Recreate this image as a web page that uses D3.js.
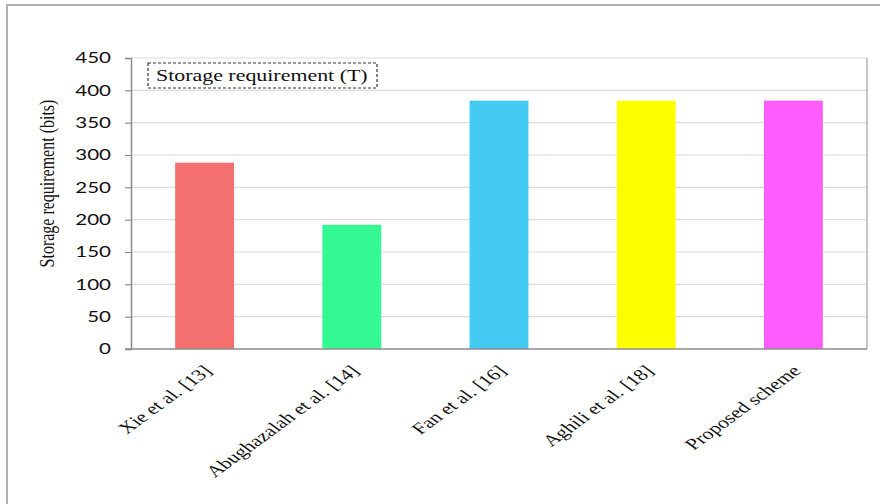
<!DOCTYPE html>
<html>
<head>
<meta charset="utf-8">
<script src="https://cdn.jsdelivr.net/npm/d3@7.9.0/dist/d3.min.js"></script>
<style>
  html, body { margin: 0; padding: 0; background: #fff; }
  svg { display: block; }
  .serif { font-family: "Liberation Serif", "DejaVu Serif", serif; fill: #111; }
  .tick text { font-family: Lato, "Liberation Sans", sans-serif; }
</style>
</head>
<body>
<svg id="chart" width="880" height="504"></svg>
<script>
const categories = ['Xie et al. [13]', 'Abughazalah et al. [14]', 'Fan et al. [16]', 'Aghili et al. [18]', 'Proposed scheme'];
const storageBits = [288, 192, 384, 384, 384];
const barColors = ['#f4706e', '#34f993', '#43cbf4', '#ffff00', '#ff5cff'];
const yTicks = [0, 50, 100, 150, 200, 250, 300, 350, 400, 450];
const legendLabel = 'Storage requirement (T)';
const yLabel = 'Storage requirement (bits)';

// the source picture is stretched sideways, so text gets the same squash
const sx = 1.37;

const svg = d3.select('#chart');
const plot = { left: 131, right: 867, top: 58, bottom: 349 };

// outer frame of the figure
svg.append('rect')
  .attr('x', 7).attr('y', 5)
  .attr('width', 900).attr('height', 520)
  .attr('fill', 'none')
  .attr('stroke', '#b0b0b0')
  .attr('stroke-width', 2);

const x = d3.scaleBand()
  .domain(categories)
  .range([plot.left, plot.right])
  .paddingInner(0.6)
  .paddingOuter(0.3);

const y = d3.scaleLinear()
  .domain([0, 450])
  .range([plot.bottom, plot.top]);

// grid
svg.append('g')
  .selectAll('line')
  .data(yTicks.filter(d => d > 0))
  .join('line')
  .attr('x1', plot.left).attr('x2', plot.right)
  .attr('y1', d => y(d)).attr('y2', d => y(d))
  .attr('stroke', '#dcdcdc')
  .attr('stroke-width', 1.2);

// right border of plot area
svg.append('line')
  .attr('x1', plot.right).attr('x2', plot.right)
  .attr('y1', plot.top).attr('y2', plot.bottom)
  .attr('stroke', '#b5b5b5')
  .attr('stroke-width', 1.5);

// bars
svg.append('g')
  .selectAll('rect')
  .data(storageBits)
  .join('rect')
  .attr('x', (d, i) => x(categories[i]))
  .attr('y', d => y(d))
  .attr('width', x.bandwidth())
  .attr('height', d => y(0) - y(d))
  .attr('fill', (d, i) => barColors[i]);

// y axis
const yAxis = svg.append('g')
  .attr('transform', `translate(${plot.left},0)`)
  .call(d3.axisLeft(y).tickValues(yTicks).tickSize(6).tickPadding(14));
yAxis.select('.domain').attr('stroke', '#8c8c8c').attr('stroke-width', 1.5);
yAxis.selectAll('.tick line').attr('stroke', '#8c8c8c').attr('stroke-width', 1.2);
yAxis.selectAll('.tick text')
  .attr('font-size', 15)
  .attr('fill', '#111')
  .attr('transform', function () {
    const tx = +d3.select(this).attr('x');
    return `translate(${tx},0) scale(${sx},1) translate(${-tx},0)`;
  });

// x axis line
svg.append('line')
  .attr('x1', plot.left - 6).attr('x2', plot.right)
  .attr('y1', plot.bottom).attr('y2', plot.bottom)
  .attr('stroke', '#8c8c8c')
  .attr('stroke-width', 1.5);

// category labels
svg.append('g')
  .selectAll('text')
  .data(categories)
  .join('text')
  .attr('class', 'serif')
  .attr('font-size', 16)
  .attr('text-anchor', 'end')
  .attr('dy', '0.35em')
  .attr('transform', d => `translate(${x(d) + x.bandwidth() / 2 + 3},${plot.bottom + 19}) scale(${sx},1) rotate(-45)`)
  .text(d => d);

// y axis title
svg.append('text')
  .attr('class', 'serif')
  .attr('font-size', 16)
  .attr('text-anchor', 'middle')
  .attr('transform', `translate(54,${(plot.top + plot.bottom) / 2 - 20}) scale(${sx},1) rotate(-90)`)
  .text(yLabel);

// legend-like caption box
const legend = svg.append('g');
legend.append('rect')
  .attr('x', 148).attr('y', 63)
  .attr('width', 229).attr('height', 25)
  .attr('fill', '#fff')
  .attr('stroke', '#333')
  .attr('stroke-width', 1.2)
  .attr('stroke-dasharray', '3,2');
legend.append('text')
  .attr('class', 'serif')
  .attr('font-size', 16)
  .attr('transform', `translate(156,81) scale(${sx},1)`)
  .text(legendLabel);
</script>
</body>
</html>
